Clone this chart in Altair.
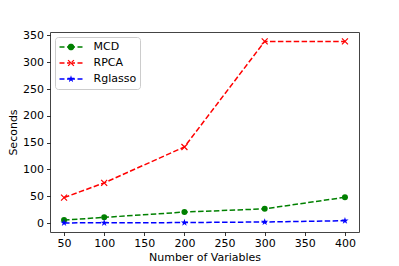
import altair as alt
import pandas as pd
import math

# ---- data ----
variables = [50, 100, 200, 300, 400]
mcd = [5.6, 10.6, 20.5, 26.5, 48.0]
rpca = [47.5, 75.0, 142.0, 339.0, 339.0]
rglasso = [0.3, 0.4, 0.9, 2.0, 4.4]
series_names = ["MCD", "RPCA", "Rglasso"]
colors = ["#008000", "#ff0000", "#0000ff"]
x_ticks = [50, 100, 150, 200, 250, 300, 350, 400]
y_ticks = [0, 50, 100, 150, 200, 250, 300, 350]

rows = []
for name, vals in zip(series_names, [mcd, rpca, rglasso]):
    for xv, yv in zip(variables, vals):
        rows.append({"vars": xv, "sec": yv, "series": name})
df = pd.DataFrame(rows)

FONT = "DejaVu Sans"
FS = 11

# ---- marker shapes ----
STAR = ("M0,-1L0.223,-0.307L0.951,-0.309L0.361,0.117L0.588,0.809L0,0.38"
        "L-0.588,0.809L-0.361,0.117L-0.951,-0.309L-0.223,-0.307Z")
XMARK = "M-1,-1L1,1M1,-1L-1,1"


def fmt(v):
    return ("%.3f" % v).rstrip("0").rstrip(".")


def dashes():
    segs = [(-2.3, -1.3), (-0.8, 0.8), (1.3, 2.3)]
    h = 0.15
    return "".join(
        "M%s,%sL%s,%sL%s,%sL%s,%sZ" % (fmt(a), fmt(-h), fmt(b), fmt(-h), fmt(b), fmt(h), fmt(a), fmt(h))
        for a, b in segs)


def circle(r, n=20):
    pts = [(r * math.cos(2 * math.pi * i / n), r * math.sin(2 * math.pi * i / n)) for i in range(n)]
    return "M" + "L".join("%s,%s" % (fmt(px), fmt(py)) for px, py in pts) + "Z"


def star(r):
    pts = [(0, -1), (0.223, -0.307), (0.951, -0.309), (0.361, 0.117), (0.588, 0.809), (0, 0.38),
           (-0.588, 0.809), (-0.361, 0.117), (-0.951, -0.309), (-0.223, -0.307)]
    return "M" + "L".join("%s,%s" % (fmt(px * r), fmt(py * r)) for px, py in pts) + "Z"


def xmark(s, t):
    a = "M%s,%sL%s,%sL%s,%sL%s,%sZ" % (fmt(-s - t), fmt(-s + t), fmt(-s + t), fmt(-s - t),
                                       fmt(s + t), fmt(s - t), fmt(s - t), fmt(s + t))
    b = "M%s,%sL%s,%sL%s,%sL%s,%sZ" % (fmt(s + t), fmt(-s + t), fmt(s - t), fmt(-s - t),
                                       fmt(-s - t), fmt(s - t), fmt(-s + t), fmt(s + t))
    return a + b


legend_shapes = [dashes() + circle(0.67), dashes() + xmark(0.58, 0.09), dashes() + star(0.76)]

xscale = alt.Scale(domain=[32.5, 417.5], nice=False, zero=False)
yscale = alt.Scale(domain=[-16.7, 356.5], nice=False, zero=False)
cscale = alt.Scale(domain=series_names, range=colors)

X = alt.X("vars:Q", scale=xscale, title="Number of Variables", axis=alt.Axis(values=x_ticks))
Y = alt.Y("sec:Q", scale=yscale, title="Seconds", axis=alt.Axis(values=y_ticks))

base = alt.Chart(df)
layers = []
marker_specs = [
    dict(shape="circle", size=36, filled=True, fill=colors[0]),
    dict(shape=XMARK, size=36, filled=False, stroke=colors[1], strokeWidth=1.2),
    dict(shape=STAR, size=58, filled=True, fill=colors[2]),
]
for name, col in zip(series_names, colors):
    sub = base.transform_filter(alt.datum.series == name)
    layers.append(sub.mark_line(strokeDash=[5.5, 2.4], strokeWidth=1.5, color=col).encode(x=X, y=Y))
for name, spec in zip(series_names, marker_specs):
    sub = base.transform_filter(alt.datum.series == name)
    layers.append(sub.mark_point(opacity=1, **spec).encode(x=X, y=Y))

leg = alt.Legend(title=None, orient="top-left", offset=5, padding=3, strokeColor="#cccccc",
                 cornerRadius=3, fillColor="white", labelFont=FONT, labelFontSize=FS,
                 labelColor="black", symbolSize=100, symbolStrokeWidth=0, symbolOffset=7.5,
                 labelOffset=17, clipHeight=14, rowPadding=2)

legend_layer = base.transform_filter(alt.datum.sec < -1000).mark_point(
    filled=True, opacity=1, size=100).encode(
    x=X, y=Y,
    color=alt.Color("series:N", scale=cscale, legend=leg),
    shape=alt.Shape("series:N", scale=alt.Scale(domain=series_names, range=legend_shapes), legend=leg))
layers.append(legend_layer)

chart = alt.layer(*layers).properties(
    width=309, height=200,
    autosize=alt.AutoSizeParams(type="none"),
    padding={"left": 42, "top": 24, "right": 30, "bottom": 34},
).configure_view(stroke="#444444", strokeWidth=1).configure_axis(
    domain=False, grid=False, ticks=True, tickColor="black", tickSize=3.5, tickWidth=0.8,
    labelFont=FONT, labelFontSize=FS, labelColor="black", labelPadding=3,
    titleFont=FONT, titleFontSize=FS, titleFontWeight="normal", titleColor="black",
).configure_axisX(labelPadding=2, titlePadding=3).configure_axisY(titlePadding=4)

chart.save("out.html", embed_options={"renderer": "svg", "actions": False})
